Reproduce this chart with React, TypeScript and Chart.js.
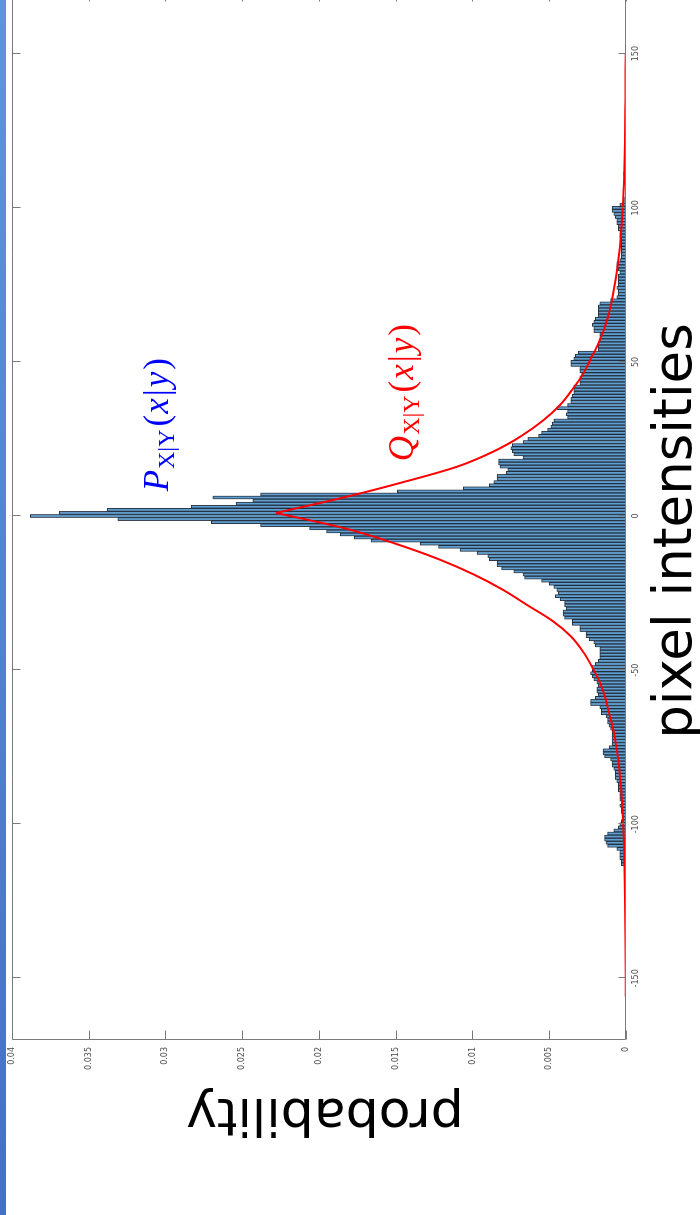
import React, { useEffect, useRef } from 'react';
import { Chart, registerables } from 'chart.js';

Chart.register(...registerables);

// ---------- data ----------
const X_MIN = -170;
const X_MAX = 170;
const Y_MIN = 0;
const Y_MAX = 0.04;

const X_TICKS = [-150, -100, -50, 0, 50, 100, 150];
const X_TICK_LABELS = ['-150', '-100', '-50', '0', '50', '100', '150'];
const Y_TICKS = [0, 0.005, 0.01, 0.015, 0.02, 0.025, 0.03, 0.035, 0.04];
const Y_TICK_LABELS = ['0', '0.005', '0.01', '0.015', '0.02', '0.025', '0.03', '0.035', '0.04'];

const X_TITLE = 'pixel intensities';
const Y_TITLE = 'probability';

// histogram: bins of width 1, first bin centre
const HIST_FIRST_BIN = -113;
const HIST_PROB = [
  // -113 .. -100
  0.0003, 0.0003, 0.0004, 0.0004, 0.0004, 0.0006, 0.0012, 0.0013, 0.0014, 0.0014, 0.0012, 0.0008, 0.0005, 0.0004,
  // -99 .. -80
  0.0003, 0.0002, 0.0002, 0.0003, 0.0003, 0.0004, 0.0003, 0.0004, 0.0004, 0.0004,
  0.0005, 0.0005, 0.0005, 0.0006, 0.0007, 0.0007, 0.0007, 0.0008, 0.0009, 0.0009,
  // -79 .. -60
  0.0010, 0.0014, 0.0015, 0.0015, 0.0011, 0.0009, 0.0009, 0.0009, 0.0009, 0.0009,
  0.0010, 0.0011, 0.0012, 0.0012, 0.0013, 0.0016, 0.0016, 0.0017, 0.0023, 0.0023,
  // -59 .. -40
  0.0020, 0.0018, 0.0019, 0.0019, 0.0018, 0.0019, 0.0021, 0.0022, 0.0023, 0.0022,
  0.0022, 0.0020, 0.0018, 0.0017, 0.0017, 0.0017, 0.0017, 0.0020, 0.0021, 0.0024,
  // -39 .. -20
  0.0026, 0.0026, 0.0030, 0.0030, 0.0035, 0.0035, 0.0040, 0.0041, 0.0041, 0.0039,
  0.0040, 0.0040, 0.0043, 0.0046, 0.0044, 0.0045, 0.0047, 0.0050, 0.0055, 0.0066,
  // -19 .. -1
  0.0067, 0.0073, 0.0081, 0.0084, 0.0084, 0.0089, 0.0090, 0.0097, 0.0108, 0.0122,
  0.0134, 0.0166, 0.0177, 0.0186, 0.0195, 0.0206, 0.0238, 0.0270, 0.0331,
  // 0 .. 19
  0.0388, 0.0369, 0.0338, 0.0283, 0.0254, 0.0243, 0.0269, 0.0238, 0.0149, 0.0106,
  0.0089, 0.0086, 0.0084, 0.0084, 0.0078, 0.0077, 0.0082, 0.0083, 0.0083, 0.0067,
  // 20 .. 39
  0.0073, 0.0074, 0.0075, 0.0074, 0.0067, 0.0064, 0.0057, 0.0055, 0.0051, 0.0049,
  0.0048, 0.0047, 0.0038, 0.0039, 0.0038, 0.0045, 0.0038, 0.0036, 0.0036, 0.0035,
  // 40 .. 59
  0.0034, 0.0034, 0.0034, 0.0030, 0.0030, 0.0030, 0.0029, 0.0030, 0.0030, 0.0036,
  0.0036, 0.0034, 0.0033, 0.0031, 0.0018, 0.0018, 0.0018, 0.0017, 0.0017, 0.0017,
  // 60 .. 79
  0.0021, 0.0021, 0.0022, 0.0021, 0.0020, 0.0018, 0.0018, 0.0018, 0.0018, 0.0017,
  0.0010, 0.0006, 0.0005, 0.0005, 0.0006, 0.0005, 0.0005, 0.0005, 0.0005, 0.0004,
  // 80 .. 99
  0.0005, 0.0006, 0.0006, 0.0004, 0.0003, 0.0003, 0.0003, 0.0003, 0.0003, 0.0003,
  0.0003, 0.0004, 0.0004, 0.0005, 0.0005, 0.0006, 0.0006, 0.0007, 0.0008, 0.0009,
  // 100 .. 124
  0.0009, 0.0004, 0.0001, 0.0001, 0, 0, 0, 0, 0, 0,
  0, 0.00015, 0, 0, 0, 0, 0, 0, 0, 0,
  0, 0, 0, 0, 0.0001,
];

const CURVE_LEFT_X = [-156, -139, -124, -114, -104, -94, -89, -84, -79, -74, -69, -64, -59, -54, -49, -44, -39, -34, -29, -24, -19, -14, -9, -4, 1];
const CURVE_LEFT_P = [
  0.00002, 0.00003, 0.00006, 0.0001, 0.00015, 0.00024, 0.00031, 0.0004, 0.00051, 0.00066, 0.00085, 0.0011, 0.00135,
  0.0017, 0.0022, 0.0028, 0.0036, 0.0048, 0.0064, 0.0080, 0.0099, 0.0122, 0.0150, 0.0183, 0.0228,
];
const CURVE_RIGHT_X = [1, 6, 11, 16, 21, 26, 31, 36, 41, 46, 51, 56, 61, 66, 71, 76, 81, 86, 91, 101, 111, 121, 135, 150];
const CURVE_RIGHT_P = [
  0.0228, 0.0184, 0.0145, 0.0110, 0.0086, 0.0068, 0.0054, 0.0043, 0.0035, 0.0028, 0.0023, 0.0018, 0.0014, 0.0011,
  0.00088, 0.0007, 0.00055, 0.00043, 0.00034, 0.0002, 0.00012, 0.00007, 0.00004, 0.00002,
];

// annotation anchors (data coords: start x, baseline y)
const P_LABEL_POS = [8, 0.0298];
const Q_LABEL_POS = [17.8, 0.0139];

// ---------- style ----------
const CANVAS_W = 1232;
const CANVAS_H = 700;
const PAGE_H = 1215;
const AXIS_COLOR = '#7a7a7a';
const TICK_COLOR = '#4d4d4d';
const SANS = '"DejaVu Sans", sans-serif';
const SERIF = '"Liberation Serif", "Times New Roman", serif';

type Run = { t: string; f: string; dy?: number; gap?: number };

function drawRuns(ctx: CanvasRenderingContext2D, x: number, y: number, runs: Run[]) {
  let cx = x;
  for (const r of runs) {
    ctx.font = r.f;
    ctx.fillText(r.t, cx, y + (r.dy || 0));
    cx += ctx.measureText(r.t).width + (r.gap || 0);
  }
}

function mathLabel(letter: string): Run[] {
  const big = 35;
  const small = 24;
  return [
    { t: letter, f: `italic ${big}px ${SERIF}`, gap: 1 },
    { t: 'X|Y', f: `${small}px ${SERIF}`, dy: 6, gap: 3 },
    { t: '(', f: `${big}px ${SERIF}`, gap: 1 },
    { t: 'x', f: `italic ${big}px ${SERIF}`, gap: 2 },
    { t: '|', f: `${big}px ${SERIF}`, gap: 2 },
    { t: 'y', f: `italic ${big}px ${SERIF}`, gap: 2 },
    { t: ')', f: `${big}px ${SERIF}` },
  ];
}

export default function App() {
  const ref = useRef<HTMLCanvasElement | null>(null);

  useEffect(() => {
    const canvas = ref.current;
    if (!canvas) return;

    const histData = HIST_PROB.map((p, i) => ({ x: HIST_FIRST_BIN + i, y: p })).filter((d) => d.y > 0);
    const leftData = CURVE_LEFT_X.map((x, i) => ({ x, y: CURVE_LEFT_P[i] }));
    const rightData = CURVE_RIGHT_X.map((x, i) => ({ x, y: CURVE_RIGHT_P[i] }));

    const decor = {
      id: 'decor',
      afterDraw(chart: any) {
        const { ctx, chartArea: a, scales } = chart;
        const xs = scales.x;
        const ys = scales.y;
        ctx.save();
        const L = Math.round(a.left) + 0.5;
        const R = Math.round(a.right) - 0.5;
        const T = Math.round(a.top) + 0.5;
        const B = Math.round(a.bottom) - 0.5;
        ctx.strokeStyle = AXIS_COLOR;
        ctx.lineWidth = 1;
        ctx.beginPath();
        ctx.rect(L, T, R - L, B - T);
        X_TICKS.forEach((v) => {
          const px = Math.round(xs.getPixelForValue(v)) + 0.5;
          ctx.moveTo(px, B);
          ctx.lineTo(px, B - 7);
          ctx.moveTo(px, T);
          ctx.lineTo(px, T + 8);
        });
        Y_TICKS.forEach((v) => {
          const py = Math.round(ys.getPixelForValue(v)) + 0.5;
          ctx.moveTo(L, py);
          ctx.lineTo(L + 9, py);
          ctx.moveTo(R, py);
          ctx.lineTo(R - 9, py);
        });
        ctx.stroke();

        ctx.fillStyle = '#000';
        ctx.font = `53px ${SANS}`;
        ctx.textAlign = 'center';
        ctx.textBaseline = 'alphabetic';
        ctx.fillText(X_TITLE, 684, 691);
        ctx.font = `52px ${SANS}`;
        ctx.save();
        ctx.translate(116, 325);
        ctx.rotate(-Math.PI / 2);
        ctx.fillText(Y_TITLE, 0, 0);
        ctx.restore();

        ctx.textAlign = 'left';
        ctx.fillStyle = '#0000ff';
        drawRuns(ctx, xs.getPixelForValue(P_LABEL_POS[0]), ys.getPixelForValue(P_LABEL_POS[1]), mathLabel('P'));
        ctx.fillStyle = '#ff0000';
        drawRuns(ctx, xs.getPixelForValue(Q_LABEL_POS[0]), ys.getPixelForValue(Q_LABEL_POS[1]), mathLabel('Q'));
        ctx.restore();
      },
    };

    const lineStyle = {
      type: 'line',
      borderColor: '#ff0000',
      borderWidth: 2,
      pointRadius: 0,
      cubicInterpolationMode: 'monotone',
      fill: false,
      order: 0,
    };

    const chart = new Chart(canvas, {
      data: {
        datasets: [
          { ...lineStyle, data: leftData } as any,
          { ...lineStyle, data: rightData } as any,
          {
            type: 'bar',
            data: histData,
            backgroundColor: 'rgb(94,160,210)',
            borderColor: 'rgba(20,30,45,0.9)',
            borderWidth: 1,
            barPercentage: 1,
            categoryPercentage: 1,
            order: 1,
          } as any,
        ],
      },
      options: {
        responsive: false,
        animation: false,
        devicePixelRatio: 1,
        layout: { padding: { top: 10, right: 9, left: 0, bottom: 0 } },
        plugins: { legend: { display: false }, tooltip: { enabled: false } },
        scales: {
          x: {
            type: 'linear',
            min: X_MIN,
            max: X_MAX,
            offset: false,
            grid: { display: false, drawTicks: false, offset: false },
            border: { display: false },
            afterBuildTicks: (s: any) => {
              s.ticks = X_TICKS.map((v) => ({ value: v }));
            },
            afterFit: (s: any) => {
              s.height = 74;
            },
            ticks: {
              autoSkip: false,
              maxRotation: 0,
              padding: 5,
              color: TICK_COLOR,
              font: { family: SANS, size: 8 },
              callback: (_v: any, i: number) => X_TICK_LABELS[i],
            },
          },
          y: {
            type: 'linear',
            min: Y_MIN,
            max: Y_MAX,
            grid: { display: false, drawTicks: false },
            border: { display: false },
            afterBuildTicks: (s: any) => {
              s.ticks = Y_TICKS.map((v) => ({ value: v }));
            },
            afterFit: (s: any) => {
              s.width = 175;
            },
            ticks: {
              autoSkip: false,
              padding: 7,
              color: TICK_COLOR,
              font: { family: SANS, size: 8 },
              callback: (_v: any, i: number) => Y_TICK_LABELS[i],
            },
          },
        },
      },
      plugins: [decor],
    } as any);

    return () => chart.destroy();
  }, []);

  return (
    <div
      style={{
        position: 'fixed',
        left: 0,
        top: 0,
        width: 700,
        height: PAGE_H,
        overflow: 'hidden',
        background: '#fff',
      }}
    >
      <div
        style={{
          position: 'absolute',
          left: 0,
          top: PAGE_H,
          width: CANVAS_W,
          height: CANVAS_H,
          transformOrigin: '0 0',
          transform: 'rotate(-90deg)',
        }}
      >
        <canvas ref={ref} width={CANVAS_W} height={CANVAS_H} style={{ display: 'block' }} />
      </div>
      <div
        style={{
          position: 'absolute',
          left: 0,
          top: 0,
          width: 6,
          height: PAGE_H,
          background: 'linear-gradient(to bottom, #6690e0, #4470c8)',
        }}
      />
    </div>
  );
}
